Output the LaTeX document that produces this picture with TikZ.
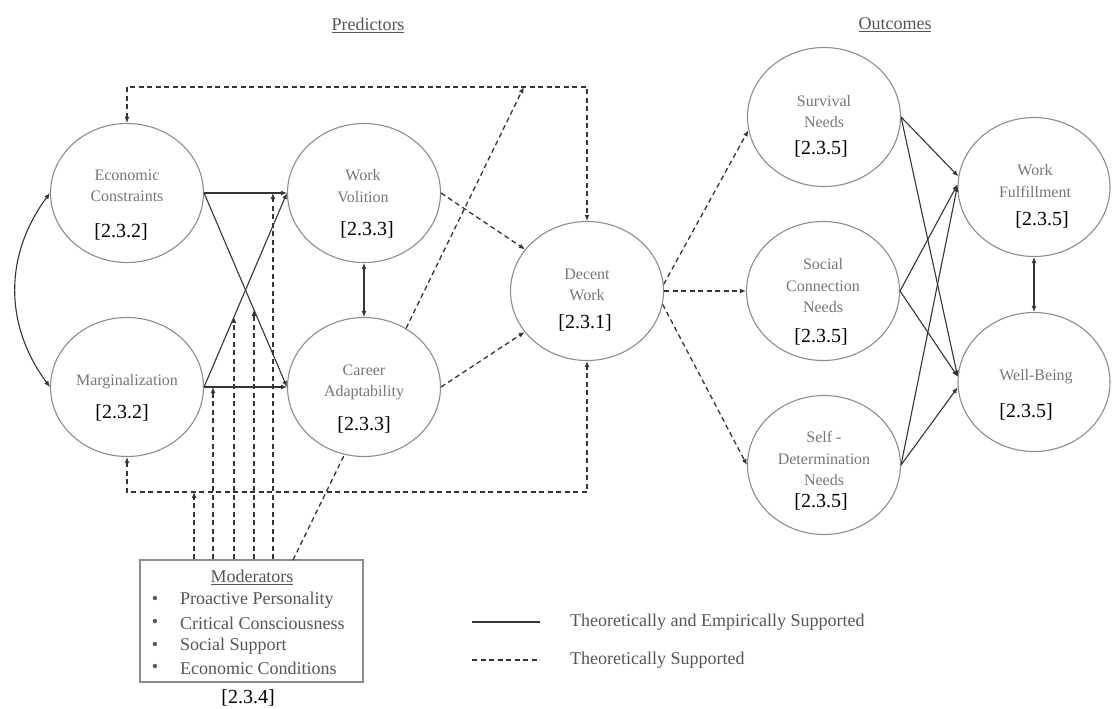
\documentclass[tikz,border=0pt]{standalone}
\usepackage{fontspec}
\setmainfont{Liberation Serif}
\usetikzlibrary{arrows.meta,shapes.geometric,calc}
\definecolor{ellc}{HTML}{8C8C8C}
\definecolor{labc}{HTML}{767676}
\definecolor{linec}{HTML}{353535}
\definecolor{txtc}{HTML}{555555}
\begin{document}
\begin{tikzpicture}[x=1pt,y=-1pt,
  ell/.style={ellipse,draw=ellc,line width=1.1pt,minimum width=153pt,minimum height=139pt,inner sep=0pt},
  lab/.style={text=labc,font=\fontsize{16}{21.5}\selectfont,align=center,inner sep=0pt},
  sec/.style={text=black,font=\fontsize{20}{24}\selectfont,inner sep=0pt},
  con/.style={draw=linec,line width=1.1pt},
  dsh/.style={draw=linec,line width=1.3pt,dash pattern=on 5pt off 3.5pt},
  tip/.style={-{Latex[length=6pt,width=5pt]}},
  tips/.style={{Latex[length=6pt,width=5pt]}-{Latex[length=6pt,width=5pt]}},
  hdr/.style={text=txtc,font=\fontsize{18}{22}\selectfont,inner sep=0pt},
]
\useasboundingbox (0,0) rectangle (1112,709);

% headers
\node[hdr] (pred) at (368,25) {\underline{Predictors}};
\node[hdr] (outc) at (895,25) {\underline{Outcomes}};

% ellipses
\node[ell] (ec) at (127,193) {};
\node[ell] (mg) at (127,387) {};
\node[ell] (wv) at (364,193) {};
\node[ell] (ca) at (364,387) {};
\node[ell] (dw) at (587,291) {};
\node[ell] (sn) at (824,117) {};
\node[ell] (sc) at (823,291) {};
\node[ell] (sd) at (824,465) {};
\node[ell,minimum width=152pt] (wf) at (1034,187) {};
\node[ell,minimum width=152pt] (wb) at (1034,382) {};

% labels
\node[lab] (ecT) at (127,186) {Economic\\Constraints};
\node[sec] (ecS) at (121,232) {[2.3.2]};
\node[lab] (mgT) at (127,382) {Marginalization};
\node[sec] (mgS) at (122,413) {[2.3.2]};
\node[lab] (wvT) at (363,186) {Work\\Volition};
\node[sec] (wvS) at (367,230) {[2.3.3]};
\node[lab] (caT) at (364,382.5) {Career\\Adaptability};
\node[sec] (caS) at (364,425) {[2.3.3]};
\node[lab] (dwT) at (587,285) {Decent\\Work};
\node[sec] (dwS) at (585,323) {[2.3.1]};
\node[lab] (snT) at (824,111.5) {Survival\\Needs};
\node[sec] (snS) at (821,149) {[2.3.5]};
\node[lab] (scT) at (823,286) {Social\\Connection\\Needs};
\node[sec] (scS) at (821,337) {[2.3.5]};
\node[lab] (sdT) at (824,458.5) {Self -\\Determination\\Needs};
\node[sec] (sdS) at (821,502) {[2.3.5]};
\node[lab] (wfT) at (1035,181) {Work\\Fulfillment};
\node[sec] (wfS) at (1042,220) {[2.3.5]};
\node[lab] (wbT) at (1036,377) {Well-Being};
\node[sec] (wbS) at (1026,412) {[2.3.5]};

% moderators box
\node[draw=ellc,line width=1.1pt,minimum width=223pt,minimum height=122pt,inner sep=0pt] (modbox) at (251.5,621) {};
\node[hdr] (modT) at (252,577) {\underline{Moderators}};
\node[hdr] (bu1) at (155,600) {•};
\node[hdr] (bu2) at (155,623) {•};
\node[hdr] (bu3) at (155,646) {•};
\node[hdr] (bu4) at (155,668) {•};
\node[hdr,anchor=west] (it1) at (180,600) {Proactive Personality};
\node[hdr,anchor=west] (it2) at (180,623) {Critical Consciousness};
\node[hdr,anchor=west] (it3) at (180,646) {Social Support};
\node[hdr,anchor=west] (it4) at (180,668) {Economic Conditions};
\node[sec] (modS) at (248,698) {[2.3.4]};

% legend
\coordinate (lg1a) at (472,622);
\coordinate (lg1b) at (540,622);
\coordinate (lg2a) at (472,660);
\coordinate (lg2b) at (540,660);
\draw[con] (lg1a) -- (lg1b);
\draw[dsh] (lg2a) -- (lg2b);
\node[hdr,anchor=west] (lg1t) at (570,622) {Theoretically and Empirically Supported};
\node[hdr,anchor=west] (lg2t) at (570,660) {Theoretically Supported};

% solid predictor paths
\draw[con,tip] (ec.east) -- (wv.west);
\draw[con,tip] (ec.east) -- (ca.west);
\draw[con,tip] (mg.east) -- (wv.west);
\draw[con,tip] (mg.east) -- (ca.west);
\draw[con,tips] (wv.south) -- (ca.north);
\draw[con,tips] (ec.west) .. controls (4,255) and (4,325) .. (mg.west);

% dashed to decent work
\draw[dsh,tip] (wv.east) -- (dw);
\draw[dsh,tip] (ca.east) -- (dw);
\draw[dsh,tip] (dw.5) -- (sn.190);
\draw[dsh,tip] (dw.east) -- (sc.west);
\draw[dsh,tip] (dw.-10) -- (sd.west);

% outcome paths
\draw[con,tip] (sn.east) -- (wf.172);
\draw[con,tip] (sn.east) -- (wb.176);
\draw[con,tip] (sc.east) -- (wf.178);
\draw[con,tip] (sc.east) -- (wb.176);
\draw[con,tip] (sd.east) -- (wf.179);
\draw[con,tip] (sd.east) -- (wb.184);
\draw[con,tips] (wf.south) -- (wb.north);

% top and bottom feedback lines
\coordinate (tl) at (127,87);
\coordinate (tr) at (587,87);
\draw[dsh,tips] (ec.north) -- (tl) -- (tr) -- (dw.north);
\coordinate (bl) at (127,492);
\coordinate (br) at (587,492);
\draw[dsh,tips] (mg.south) -- (bl) -- (br) -- (dw.south);

% moderator arrows
\path (bl) -- (br) coordinate[pos=0.1457] (t0);
\path (mg.east) -- (ca.west) coordinate[pos=0.108] (t1);
\path (mg.east) -- (wv.west) coordinate[pos=0.361] (t2);
\path (ec.east) -- (ca.west) coordinate[pos=0.602] (t3);
\path (ec.east) -- (wv.west) coordinate[pos=0.831] (t4);
\path (tl) -- (tr) coordinate[pos=0.8627] (t5);
\draw[dsh,tip] (t0 |- modbox.north) -- (t0);
\draw[dsh,tip] (t1 |- modbox.north) -- (t1);
\draw[dsh,tip] (t2 |- modbox.north) -- (t2);
\draw[dsh,tip] (t3 |- modbox.north) -- (t3);
\draw[dsh,tip] (t4 |- modbox.north) -- (t4);
\coordinate (s5) at (293,560);
\draw[dsh] (s5) -- ($(s5)!0.2227!(t5)$);
\draw[dsh,tip] ($(s5)!0.4896!(t5)$) -- (t5);
\end{tikzpicture}
\end{document}
